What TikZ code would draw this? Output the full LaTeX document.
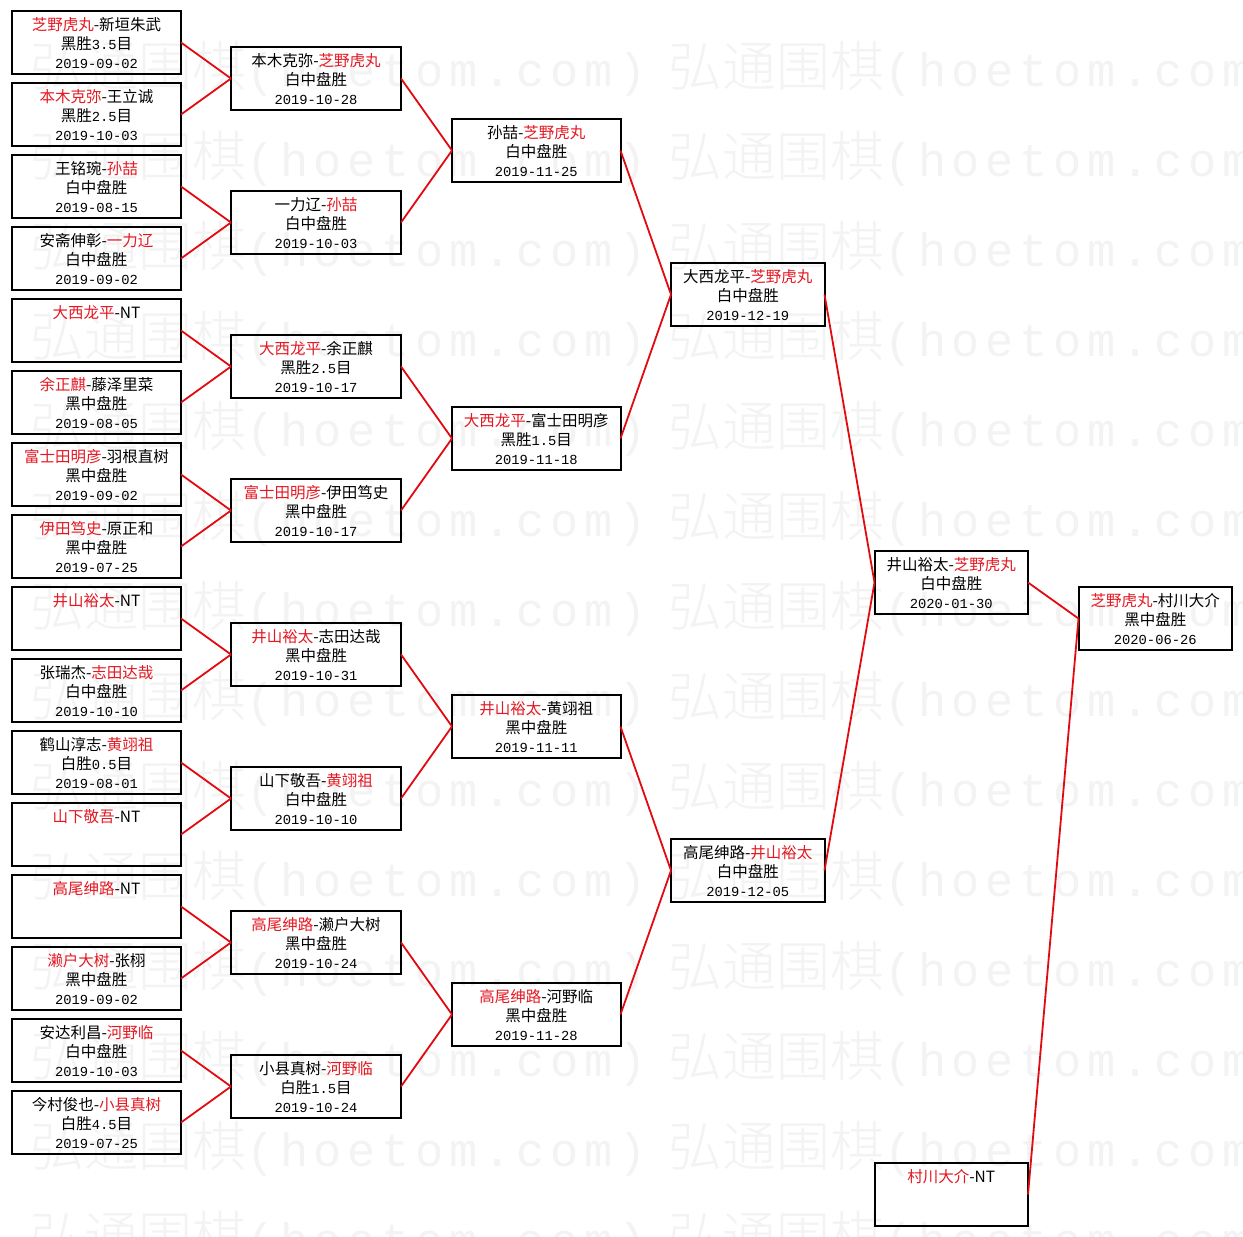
\documentclass[tikz,border=0pt]{standalone}
\usepackage{fontspec}
\setmainfont{Noto Sans CJK SC}
\newfontfamily\monofnt{Liberation Mono}
\newfontfamily\wmcjk{Noto Sans CJK SC Light}
\newfontfamily\wmlatin[LetterSpace=12]{Liberation Mono}
\definecolor{winred}{RGB}{228,24,34}
\definecolor{linered}{RGB}{226,10,16}
\definecolor{wmgray}{RGB}{243,243,243}
\newcommand\wn[1]{\textcolor{winred}{#1}}
\newcommand\dt[1]{{\monofnt\fontsize{13.8}{19}\selectfont #1}}
\newcommand\gbox[2]{\parbox[c][63pt][t]{#1pt}{\centering\rule{0pt}{19pt}#2\par}}
\tikzset{
  game/.style={draw=black, line width=2pt, inner sep=0pt, outer sep=0pt,
    anchor=north west, font=\fontsize{15.5}{19}\selectfont, text=black},
  conn/.style={draw=linered, line width=1.8pt},
  wmark/.style={anchor=base west, inner sep=0pt, text=wmgray}
}
\begin{document}
\begin{tikzpicture}[x=1pt,y=-1pt]
\useasboundingbox (0,0) rectangle (1243,1237);
\fill[white] (0,0) rectangle (1243,1237);
% watermark
\foreach \k in {0,...,13}{
  \node[wmark] (wma\k) at (30,{86+90*\k}) {{\wmcjk\fontsize{54}{54}\selectfont 弘通围棋}{\wmlatin\fontsize{47}{54}\selectfont (hoetom.com)}};
  \node[wmark] (wmb\k) at (668,{86+90*\k}) {{\wmcjk\fontsize{54}{54}\selectfont 弘通围棋}{\wmlatin\fontsize{47}{54}\selectfont (hoetom.com)}};
}
% column 1
\node[game] (a0) at (12,11) {\gbox{169}{\wn{芝野虎丸}-新垣朱武\\黑胜\dt{3.5}目\\\dt{2019-09-02}}};
\node[game] (a1) at (12,83) {\gbox{169}{\wn{本木克弥}-王立诚\\黑胜\dt{2.5}目\\\dt{2019-10-03}}};
\node[game] (a2) at (12,155) {\gbox{169}{王铭琬-\wn{孙喆}\\白中盘胜\\\dt{2019-08-15}}};
\node[game] (a3) at (12,227) {\gbox{169}{安斋伸彰-\wn{一力辽}\\白中盘胜\\\dt{2019-09-02}}};
\node[game] (a4) at (12,299) {\gbox{169}{\wn{大西龙平}-NT}};
\node[game] (a5) at (12,371) {\gbox{169}{\wn{余正麒}-藤泽里菜\\黑中盘胜\\\dt{2019-08-05}}};
\node[game] (a6) at (12,443) {\gbox{169}{\wn{富士田明彦}-羽根直树\\黑中盘胜\\\dt{2019-09-02}}};
\node[game] (a7) at (12,515) {\gbox{169}{\wn{伊田笃史}-原正和\\黑中盘胜\\\dt{2019-07-25}}};
\node[game] (a8) at (12,587) {\gbox{169}{\wn{井山裕太}-NT}};
\node[game] (a9) at (12,659) {\gbox{169}{张瑞杰-\wn{志田达哉}\\白中盘胜\\\dt{2019-10-10}}};
\node[game] (a10) at (12,731) {\gbox{169}{鹤山淳志-\wn{黄翊祖}\\白胜\dt{0.5}目\\\dt{2019-08-01}}};
\node[game] (a11) at (12,803) {\gbox{169}{\wn{山下敬吾}-NT}};
\node[game] (a12) at (12,875) {\gbox{169}{\wn{高尾绅路}-NT}};
\node[game] (a13) at (12,947) {\gbox{169}{\wn{濑户大树}-张栩\\黑中盘胜\\\dt{2019-09-02}}};
\node[game] (a14) at (12,1019) {\gbox{169}{安达利昌-\wn{河野临}\\白中盘胜\\\dt{2019-10-03}}};
\node[game] (a15) at (12,1091) {\gbox{169}{今村俊也-\wn{小县真树}\\白胜\dt{4.5}目\\\dt{2019-07-25}}};
% column 2
\node[game] (b0) at (231,47) {\gbox{170}{本木克弥-\wn{芝野虎丸}\\白中盘胜\\\dt{2019-10-28}}};
\node[game] (b1) at (231,191) {\gbox{170}{一力辽-\wn{孙喆}\\白中盘胜\\\dt{2019-10-03}}};
\node[game] (b2) at (231,335) {\gbox{170}{\wn{大西龙平}-余正麒\\黑胜\dt{2.5}目\\\dt{2019-10-17}}};
\node[game] (b3) at (231,479) {\gbox{170}{\wn{富士田明彦}-伊田笃史\\黑中盘胜\\\dt{2019-10-17}}};
\node[game] (b4) at (231,623) {\gbox{170}{\wn{井山裕太}-志田达哉\\黑中盘胜\\\dt{2019-10-31}}};
\node[game] (b5) at (231,767) {\gbox{170}{山下敬吾-\wn{黄翊祖}\\白中盘胜\\\dt{2019-10-10}}};
\node[game] (b6) at (231,911) {\gbox{170}{\wn{高尾绅路}-濑户大树\\黑中盘胜\\\dt{2019-10-24}}};
\node[game] (b7) at (231,1055) {\gbox{170}{小县真树-\wn{河野临}\\白胜\dt{1.5}目\\\dt{2019-10-24}}};
% column 3
\node[game] (c0) at (452,119) {\gbox{168.5}{孙喆-\wn{芝野虎丸}\\白中盘胜\\\dt{2019-11-25}}};
\node[game] (c1) at (452,407) {\gbox{168.5}{\wn{大西龙平}-富士田明彦\\黑胜\dt{1.5}目\\\dt{2019-11-18}}};
\node[game] (c2) at (452,695) {\gbox{168.5}{\wn{井山裕太}-黄翊祖\\黑中盘胜\\\dt{2019-11-11}}};
\node[game] (c3) at (452,983) {\gbox{168.5}{\wn{高尾绅路}-河野临\\黑中盘胜\\\dt{2019-11-28}}};
% column 4
\node[game] (d0) at (671,263) {\gbox{153.5}{大西龙平-\wn{芝野虎丸}\\白中盘胜\\\dt{2019-12-19}}};
\node[game] (d1) at (671,839) {\gbox{153.5}{高尾绅路-\wn{井山裕太}\\白中盘胜\\\dt{2019-12-05}}};
% column 5
\node[game] (e0) at (874.5,551) {\gbox{153.5}{井山裕太-\wn{芝野虎丸}\\白中盘胜\\\dt{2020-01-30}}};
\node[game] (g0) at (874.5,1163) {\gbox{153.5}{\wn{村川大介}-NT}};
% column 6
\node[game] (f0) at (1078.5,587) {\gbox{153.5}{\wn{芝野虎丸}-村川大介\\黑中盘胜\\\dt{2020-06-26}}};
% connectors
\foreach \i in {0,...,7}{
  \pgfmathtruncatemacro\ja{2*\i}
  \pgfmathtruncatemacro\jb{2*\i+1}
  \draw[conn] (a\ja.east) -- (b\i.west);
  \draw[conn] (a\jb.east) -- (b\i.west);
}
\foreach \i in {0,...,3}{
  \pgfmathtruncatemacro\ja{2*\i}
  \pgfmathtruncatemacro\jb{2*\i+1}
  \draw[conn] (b\ja.east) -- (c\i.west);
  \draw[conn] (b\jb.east) -- (c\i.west);
}
\foreach \i in {0,1}{
  \pgfmathtruncatemacro\ja{2*\i}
  \pgfmathtruncatemacro\jb{2*\i+1}
  \draw[conn] (c\ja.east) -- (d\i.west);
  \draw[conn] (c\jb.east) -- (d\i.west);
}
\draw[conn] (d0.east) -- (e0.west);
\draw[conn] (d1.east) -- (e0.west);
\draw[conn] (e0.east) -- (f0.west);
\draw[conn] (g0.east) -- (f0.west);
\end{tikzpicture}
\end{document}
